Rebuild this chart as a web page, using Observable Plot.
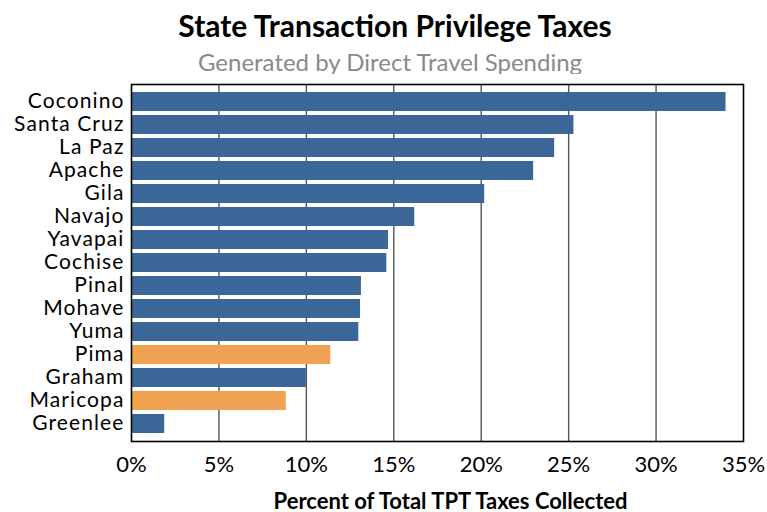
<!DOCTYPE html>
<html>
<head>
<meta charset="utf-8">
<script src="https://cdn.jsdelivr.net/npm/d3@7"></script>
<script src="https://cdn.jsdelivr.net/npm/@observablehq/plot@0.6"></script>
<style>
  body { margin: 0; background: #fff; width: 767px; height: 512px; overflow: hidden; font-family: Lato, "Open Sans", sans-serif; }
  #title { position: absolute; left: 0; top: 7px; width: 790px; text-align: center; font-weight: bold; font-size: 30px; line-height: 36px; color: #000; }
  #subtitle { position: absolute; left: 0; top: 47px; width: 780px; text-align: center; font-size: 24px; line-height: 30px; color: #8a8a8a; }
  #chart { position: absolute; left: 0; top: 74px; }
  #chart g[aria-label="y-axis tick label"] text { letter-spacing: 1.1px; }
</style>
</head>
<body>
<div id="title">State Transaction Privilege Taxes</div>
<div id="subtitle">Generated by Direct Travel Spending</div>
<div id="chart"></div>
<script>
const counties = ["Coconino","Santa Cruz","La Paz","Apache","Gila","Navajo","Yavapai","Cochise","Pinal","Mohave","Yuma","Pima","Graham","Maricopa","Greenlee"];
const values = [34.0, 25.3, 24.2, 23.0, 20.2, 16.2, 14.7, 14.6, 13.15, 13.1, 13.0, 11.4, 10.0, 8.85, 1.9];
const groups = ["rural","rural","rural","rural","rural","rural","rural","rural","rural","rural","rural","metro","rural","metro","rural"];
const xTicks = [0, 5, 10, 15, 20, 25, 30, 35];
const gridTicks = [5, 10, 15, 20, 25, 30];
const xLabel = "Percent of Total TPT Taxes Collected";

const data = counties.map((c, i) => ({county: c, value: values[i], group: groups[i]}));

const chart = Plot.plot({
  width: 767,
  height: 438,
  marginTop: 10,
  marginBottom: 71,
  marginLeft: 131,
  marginRight: 24,
  style: {fontFamily: "Lato, 'Open Sans', sans-serif", background: "#fff", color: "#000"},
  x: {domain: [0, 35], ticks: xTicks, tickFormat: d => d + "%", label: null},
  y: {domain: counties, padding: 0.16, label: null},
  color: {domain: ["rural", "metro"], range: ["#3a6798", "#efa352"]},
  marks: [
    Plot.ruleX(gridTicks, {stroke: "#555", strokeWidth: 1.4}),
    Plot.barX(data, {x: "value", y: "county", fill: "group"}),
    Plot.frame({stroke: "#000", strokeWidth: 1.6}),
    Plot.axisX(xTicks, {tickSize: 0, tickPadding: 15, fontSize: 22, label: null, tickFormat: d => d + "%"}),
    Plot.axisY({tickSize: 0, tickPadding: 7, fontSize: 21, label: null, dy: -1}),
    Plot.text([xLabel], {frameAnchor: "bottom", dy: 67, dx: 13, fontSize: 22, fontWeight: "bold", fill: "#000"})
  ]
});
document.getElementById("chart").appendChild(chart);
</script>
</body>
</html>
